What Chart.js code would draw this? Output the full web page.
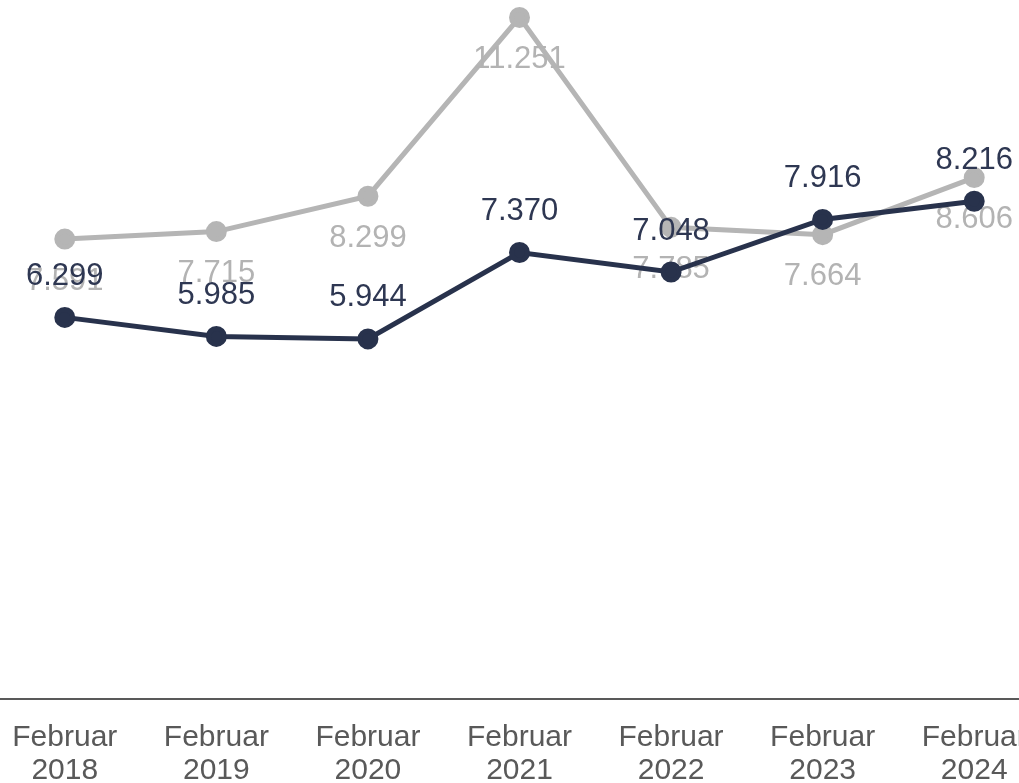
<!DOCTYPE html>
<html lang="de">
<head>
  <meta charset="UTF-8">
  <title>Februar 2018 - 2024</title>
  <style>
    html, body { margin:0; padding:0; background:#fff; overflow:hidden; width:1019px; height:783px; }
    #chart { position:absolute; left:-11px; top:-28px; }
  </style>
</head>
<body>
<canvas id="chart" width="1061" height="837"></canvas>
<script src="https://cdn.jsdelivr.net/npm/chart.js"></script>
<script>
// Kategorien und Werte
const categories = [['Februar','2018'],['Februar','2019'],['Februar','2020'],['Februar','2021'],['Februar','2022'],['Februar','2023'],['Februar','2024']];
const darkValues = [6299, 5985, 5944, 7370, 7048, 7916, 8216];
const greyValues = [7591, 7715, 8299, 11251, 7785, 7664, 8606];

const fmt = v => String(v).replace(/\B(?=(\d{3})+(?!\d))/g, '.');

// Werte an den Punkten beschriften
const valueLabels = {
  id: 'valueLabels',
  afterDatasetDraw(chart, args) {
    const ds = chart.data.datasets[args.index];
    const ctx = chart.ctx;
    ctx.save();
    ctx.font = '31px "Liberation Sans", Arial, sans-serif';
    ctx.fillStyle = ds.labelColor;
    ctx.textAlign = 'center';
    ctx.textBaseline = 'middle';
    args.meta.data.forEach((pt, i) => {
      ctx.fillText(fmt(ds.data[i]), pt.x, pt.y + ds.labelOffset);
    });
    ctx.restore();
  }
};

new Chart(document.getElementById('chart'), {
  type: 'line',
  data: {
    labels: categories,
    datasets: [
      {
        label: 'Reihe 1',
        data: darkValues,
        borderColor: '#28324c',
        backgroundColor: '#28324c',
        borderWidth: 5,
        pointRadius: 8,
        pointHoverRadius: 8,
        labelColor: '#2e3752',
        labelOffset: -41,
        tension: 0
      },
      {
        label: 'Reihe 2',
        data: greyValues,
        borderColor: '#b5b5b5',
        backgroundColor: '#b5b5b5',
        borderWidth: 5,
        pointRadius: 8,
        pointHoverRadius: 8,
        labelColor: '#b3b3b3',
        labelOffset: 42,
        tension: 0
      }
    ]
  },
  options: {
    responsive: false,
    animation: false,
    layout: { padding: 0, autoPadding: false },
    plugins: { legend: { display: false }, tooltip: { enabled: false } },
    scales: {
      x: {
        offset: true,
        grid: { display: false, drawTicks: false },
        border: { display: true, color: '#595959', width: 2 },
        ticks: {
          color: '#595959',
          padding: 22,
          maxRotation: 0,
          autoSkip: false,
          font: { family: '"Liberation Sans", Arial, sans-serif', size: 30, lineHeight: 1.1 }
        }
      },
      y: {
        display: false,
        min: 0,
        max: 12000
      }
    }
  },
  plugins: [valueLabels]
});
</script>
</body>
</html>
